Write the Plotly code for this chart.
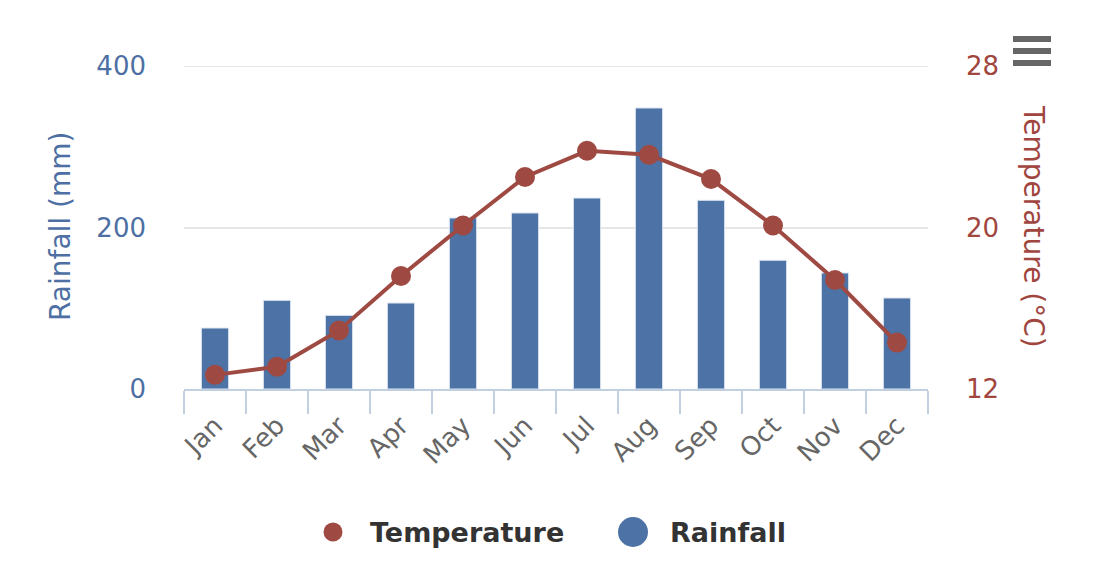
import plotly.graph_objects as go

months = ["Jan", "Feb", "Mar", "Apr", "May", "Jun", "Jul", "Aug", "Sep", "Oct", "Nov", "Dec"]
rainfall = [75.5, 109.8, 91.2, 106.5, 211.8, 218.0, 236.5, 348.0, 233.7, 159.4, 143.7, 112.7]
temperature = [12.7, 13.1, 14.9, 17.6, 20.1, 22.5, 23.8, 23.6, 22.4, 20.1, 17.4, 14.3]
legend_names = ["Temperature", "Rainfall"]
rain_ticks = [0, 200, 400]
temp_ticks = [12, 20, 28]

BLUE = "#4c72a6"
RED = "#9e4a43"
FONT = "DejaVu Sans"

OFF = 8  # page body margin
W, H = 1112, 578
# plot area in screen pixels
SX0, SX1, SY0, SY1 = 184, 928, 66, 389
L, T = SX0 - OFF, SY0 - OFF
R, B = W - (SX1 - OFF), H - (SY1 - OFF)
PW, PH = SX1 - SX0, SY1 - SY0


def px_x(x):
    return (x - SX0) / PW


def px_y(y):
    return (SY1 - y) / PH


fig = go.Figure()

fig.add_trace(go.Bar(
    x=months, y=rainfall, name="Rainfall", yaxis="y",
    marker=dict(color=BLUE, line=dict(color="#dfe6f0", width=1)),
    width=0.44, showlegend=False,
))
fig.add_trace(go.Scatter(
    x=months, y=temperature, name="Temperature", yaxis="y2",
    mode="lines+markers",
    line=dict(color=RED, width=4),
    marker=dict(color=RED, size=20),
    showlegend=False, cliponaxis=False,
))

shapes = []
annotations = []

# top gridline (plotly skips grid lines lying on the plot edge)
shapes.append(dict(
    type="line", xref="paper", yref="y", x0=0, x1=1,
    y0=rain_ticks[-1], y1=rain_ticks[-1], layer="below",
    line=dict(color="#e6e6e6", width=2),
))

# manual legend (large circle symbols)
legend_items = [
    (legend_names[0], RED, 333, 19, 368),
    (legend_names[1], BLUE, 633, 30, 668),
]
LY = 532
for name, col, cx, d, tx in legend_items:
    shapes.append(dict(
        type="circle", xref="paper", yref="paper",
        x0=px_x(cx - d / 2), x1=px_x(cx + d / 2),
        y0=px_y(LY + d / 2), y1=px_y(LY - d / 2),
        fillcolor=col, line=dict(width=0),
    ))
    annotations.append(dict(
        text=f"<b>{name}</b>", xref="paper", yref="paper",
        x=px_x(tx), y=px_y(LY), xanchor="left", yanchor="middle",
        showarrow=False,
        font=dict(family=FONT, size=27, color="#333333"),
    ))

annotations += [
    dict(text="Rainfall (mm)", xref="paper", yref="paper",
         x=px_x(60), y=px_y(227), showarrow=False, textangle=-90,
         font=dict(family=FONT, size=28, color="#4d6fa3"),
         xanchor="center", yanchor="middle"),
    dict(text="Temperature (°C)", xref="paper", yref="paper",
         x=px_x(1033), y=px_y(226), showarrow=False, textangle=90,
         font=dict(family=FONT, size=28, color="#a0463f"),
         xanchor="center", yanchor="middle"),
]
for yy in (39, 51, 63):
    shapes.append(dict(
        type="line", xref="paper", yref="paper",
        x0=px_x(1013), x1=px_x(1051), y0=px_y(yy), y1=px_y(yy),
        line=dict(color="#666666", width=6),
    ))

fig.update_layout(
    width=W, height=H,
    margin=dict(l=L, r=R, t=T, b=B, pad=0),
    paper_bgcolor="white", plot_bgcolor="white",
    font=dict(family=FONT, size=24, color="#666666"),
    showlegend=False,
    xaxis=dict(
        type="category", range=[-0.5, 11.5],
        showline=True, linecolor="#c0d0e0", linewidth=2,
        ticks="outside", tickson="boundaries", ticklen=23,
        tickcolor="#c0d0e0", tickwidth=2,
        tickangle=-45, tickfont=dict(size=26, color="#666666"),
        ticklabelstandoff=9,
        showgrid=False, zeroline=False,
    ),
    yaxis=dict(
        range=[0, 400], tickvals=rain_ticks,
        showgrid=True, gridcolor="#e6e6e6", gridwidth=2,
        zeroline=False, showline=False,
        tickfont=dict(size=26, color="#4d6fa3"),
        ticklabelstandoff=37,
    ),
    yaxis2=dict(
        range=[12, 28], tickvals=temp_ticks,
        overlaying="y", side="right",
        showgrid=False, zeroline=False, showline=False,
        tickfont=dict(size=26, color="#a0463f"),
        ticklabelstandoff=37,
    ),
    annotations=annotations,
    shapes=shapes,
)

fig.write_html("out.html")
